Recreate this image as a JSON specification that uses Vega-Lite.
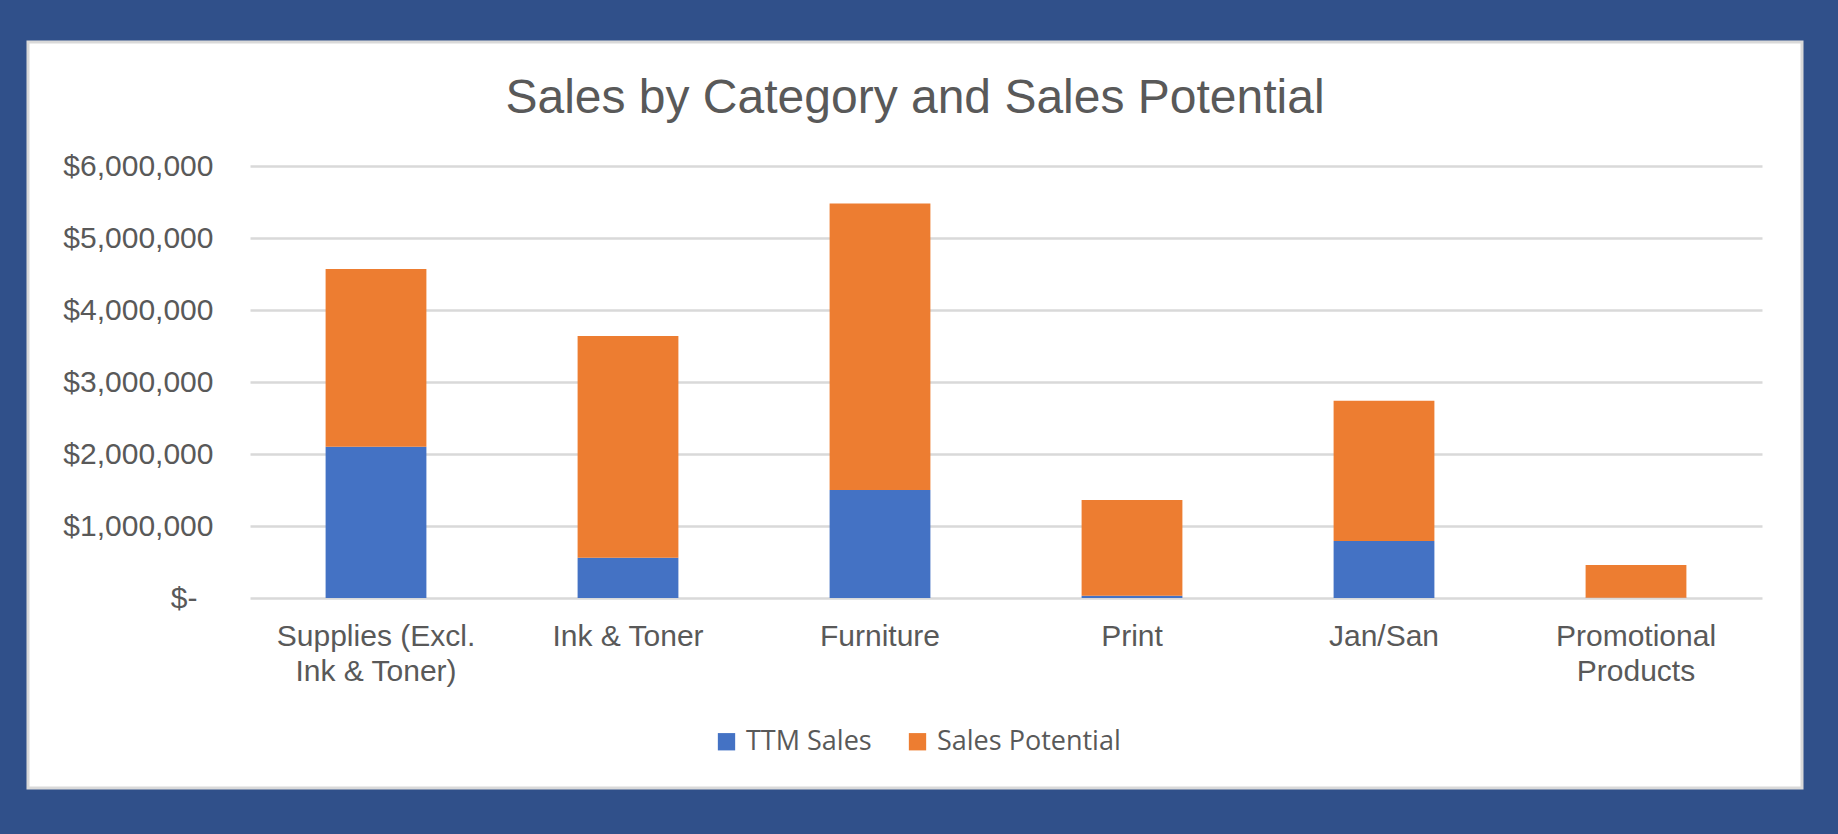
{
  "$schema": "https://vega.github.io/schema/vega-lite/v6.json",
  "width": 1774,
  "height": 746,
  "autosize": {"type": "none"},
  "padding": {"left": 28, "top": 42, "right": 36, "bottom": 46},
  "background": "#30508A",
  "config": {
    "view": {"fill": "white", "stroke": "#D9D9D9", "strokeWidth": 3},
    "font": "Liberation Sans"
  },
  "title": {
    "text": "Sales by Category and Sales Potential",
    "fontSize": 48,
    "fontWeight": "normal",
    "color": "#595959",
    "anchor": "middle",
    "frame": "group",
    "baseline": "alphabetic",
    "offset": -119
  },
  "data": {
    "values": [
      {"category": "Supplies (Excl. Ink & Toner)", "series": "TTM Sales", "value": 2100000},
      {"category": "Supplies (Excl. Ink & Toner)", "series": "Sales Potential", "value": 2470000},
      {"category": "Ink & Toner", "series": "TTM Sales", "value": 560000},
      {"category": "Ink & Toner", "series": "Sales Potential", "value": 3080000},
      {"category": "Furniture", "series": "TTM Sales", "value": 1500000},
      {"category": "Furniture", "series": "Sales Potential", "value": 3980000},
      {"category": "Print", "series": "TTM Sales", "value": 30000},
      {"category": "Print", "series": "Sales Potential", "value": 1330000},
      {"category": "Jan/San", "series": "TTM Sales", "value": 790000},
      {"category": "Jan/San", "series": "Sales Potential", "value": 1950000},
      {"category": "Promotional Products", "series": "TTM Sales", "value": 5000},
      {"category": "Promotional Products", "series": "Sales Potential", "value": 455000}
    ]
  },
  "mark": {"type": "bar"},
  "encoding": {
    "x": {
      "field": "category",
      "type": "nominal",
      "sort": null,
      "scale": {"range": [222, 1734], "paddingInner": 0.6, "paddingOuter": 0.3},
      "axis": {
        "orient": "bottom",
        "offset": -190,
        "title": null,
        "domain": false,
        "ticks": false,
        "grid": false,
        "labelAngle": 0,
        "labelFontSize": 30,
        "labelColor": "#595959",
        "labelPadding": 23,
        "labelBaseline": "top",
        "labelLineHeight": 35,
        "labelLimit": 400,
        "labelExpr": "datum.label == 'Supplies (Excl. Ink & Toner)' ? ['Supplies (Excl.', 'Ink & Toner)'] : datum.label == 'Promotional Products' ? ['Promotional', 'Products'] : datum.label"
      }
    },
    "y": {
      "field": "value",
      "type": "quantitative",
      "stack": "zero",
      "scale": {"domain": [0, 6000000], "range": [556, 124], "nice": false, "zero": true},
      "axis": {
        "orient": "left",
        "offset": -222,
        "title": null,
        "domain": false,
        "ticks": false,
        "grid": true,
        "gridColor": "#D9D9D9",
        "gridWidth": 2.5,
        "values": [0, 1000000, 2000000, 3000000, 4000000, 5000000, 6000000],
        "labelFontSize": 30,
        "labelColor": "#595959",
        "labelPadding": {"condition": {"test": "datum.value == 0", "value": 53}, "value": 37},
        "labelExpr": "datum.value == 0 ? '$-' : format(datum.value, '$,.0f')"
      }
    },
    "color": {
      "field": "series",
      "type": "nominal",
      "sort": ["TTM Sales", "Sales Potential"],
      "scale": {"domain": ["TTM Sales", "Sales Potential"], "range": ["#4472C4", "#ED7D31"]},
      "legend": {
        "orient": "none",
        "legendX": 685,
        "legendY": 686,
        "direction": "horizontal",
        "title": null,
        "symbolType": "square",
        "symbolSize": 300,
        "symbolStrokeWidth": 0,
        "labelFont": "Open Sans",
        "labelFontSize": 27,
        "labelColor": "#595959",
        "labelOffset": 6,
        "labelLimit": 400,
        "columnPadding": 32
      }
    }
  }
}
